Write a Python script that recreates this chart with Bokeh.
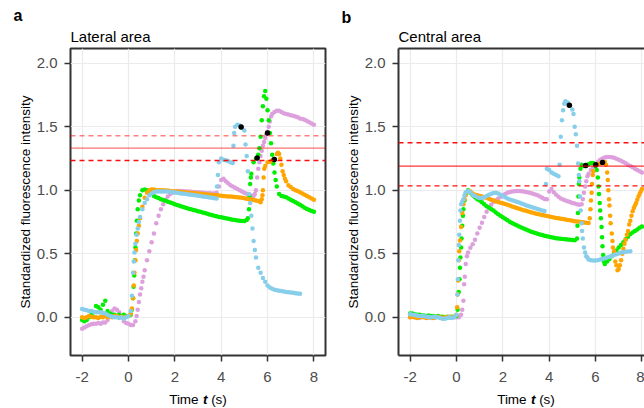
import numpy as np
from bokeh.plotting import figure
from bokeh.models import Span, FixedTicker, LinearAxis, Range1d, Title
from bokeh.core.properties import value
from bokeh.layouts import row, column
from bokeh.embed import file_html
from bokeh.resources import INLINE

# ---------------- data ----------------
# common sampling grid (s): -2.0 ... 8.0 every 0.1 s
T = np.round(np.arange(-2.0, 8.0001, 0.1), 1)

X_TICKS = [-2, 0, 2, 4, 6, 8]
X_TICK_LABELS = ["-2", "0", "2", "4", "6", "8"]
Y_TICKS = [0, 0.5, 1, 1.5, 2]
Y_TICK_LABELS = ["0.0", "0.5", "1.0", "1.5", "2.0"]
PANEL_TITLES = ["Lateral area", "Central area"]
PANEL_TAGS = ["a", "b"]
Y_LABEL = "Standardized fluorescence intensity"
X_LABEL_PARTS = ["Time", "t", "(s)"]

# ---- panel a (lateral area) ----
A_GREEN = [-0.02, -0.03, -0.02, 0.0, 0.02, 0.04, 0.09, 0.08, 0.06, 0.10,
           0.13, 0.05, 0.03, 0.02, 0.02, 0.01, 0.02, 0.01, 0.02, 0.01,
           0.01, 0.02, 0.15, 0.55, 0.85, 0.96, 1.0, 1.005, 1.0, 1.0,
           0.98, 0.955, 0.945, 0.938, 0.93, 0.924, 0.917, 0.91, 0.903, 0.897,
           0.89, 0.884, 0.878, 0.872, 0.866, 0.86, 0.855, 0.85, 0.845, 0.84,
           0.835, 0.83, 0.825, 0.82, 0.815, 0.81, 0.805, 0.8, 0.795, 0.79,
           0.787, 0.783, 0.78, 0.776, 0.772, 0.768, 0.765, 0.762, 0.76, 0.758,
           0.758, 0.765, 0.85, 1.13, 1.22, 1.25, 1.28, 1.42, 1.66, 1.78,
           1.63, 1.45, 1.28, 1.14, 1.03, 0.97, 0.955, 0.95, 0.945, 0.935,
           0.925, 0.915, 0.905, 0.895, 0.885, 0.875, 0.862, 0.852, 0.845, 0.837,
           0.83]
A_GREEN_XT = [0.15, 0.22, 0.25, 0.28, 0.33, 0.36, 0.45,
              5.15, 5.22, 5.25, 5.28, 5.65, 5.75, 5.85, 5.95, 6.05, 6.15, 6.25, 6.35]
A_GREEN_XY = [0.06, 0.24, 0.33, 0.45, 0.66, 0.76, 0.92,
              0.78, 0.95, 1.05, 1.1, 1.33, 1.55, 1.74, 1.72, 1.55, 1.37, 1.21, 1.08]

A_ORANGE = [0.0, -0.005, 0.0, 0.01, 0.005, 0.0, 0.0, -0.005, 0.005, 0.0,
            0.01, 0.0, 0.005, 0.0, 0.01, 0.01, 0.0, 0.005, 0.0, 0.005,
            0.01, 0.03, 0.15, 0.45, 0.66, 0.78, 0.87, 0.94, 0.98, 1.0,
            1.005, 1.005, 1.0, 1.0, 1.0, 1.0, 0.998, 0.997, 0.995, 0.993,
            0.99, 0.99, 0.988, 0.986, 0.985, 0.983, 0.981, 0.98, 0.978, 0.976,
            0.974, 0.972, 0.97, 0.968, 0.966, 0.965, 0.963, 0.961, 0.96, 0.958,
            0.956, 0.955, 0.953, 0.951, 0.95, 0.948, 0.946, 0.944, 0.942, 0.94,
            0.937, 0.934, 0.93, 0.927, 0.924, 0.92, 0.915, 0.905, 1.0, 1.19,
            1.22, 1.225, 1.235, 1.245, 1.285, 1.285, 1.2, 1.12, 1.07, 1.04,
            1.025, 1.01, 1.0, 0.995, 0.985, 0.975, 0.965, 0.955, 0.945, 0.935,
            0.925]
A_ORANGE_XT = [0.15, 0.23, 0.26, 0.33, 0.36, 0.45,
               5.75, 5.78, 5.83, 5.86, 6.45, 6.55, 6.65, 6.75]
A_ORANGE_XY = [0.07, 0.25, 0.35, 0.53, 0.6, 0.72,
               0.93, 0.96, 1.1, 1.17, 1.295, 1.25, 1.15, 1.09]

A_SKY = [0.065, 0.06, 0.055, 0.05, 0.05, 0.045, 0.04, 0.04, 0.04, 0.035,
         0.03, 0.02, 0.01, 0.005, 0.0, 0.0, -0.005, 0.0, -0.01, 0.0,
         0.01, 0.05, 0.35, 0.58, 0.7, 0.79, 0.85, 0.9, 0.93, 0.96,
         0.975, 0.985, 0.99, 0.99, 0.99, 0.99, 0.99, 0.99, 0.988, 0.985,
         0.983, 0.98, 0.977, 0.975, 0.972, 0.97, 0.967, 0.964, 0.962, 0.96,
         0.957, 0.954, 0.951, 0.948, 0.946, 0.943, 0.94, 0.937, 0.935, 1.22,
         1.25, 1.24, 1.235, 1.23, 1.22, 1.215, 1.5, 1.515, 1.51, 1.49,
         1.47, 1.27, 0.97, 0.8, 0.6, 0.47, 0.39, 0.35, 0.31, 0.28,
         0.25, 0.235, 0.225, 0.218, 0.213, 0.21, 0.207, 0.203, 0.2, 0.198,
         0.195, 0.193, 0.19, 0.188, 0.185, None, None, None, None, None,
         None]
A_SKY_XT = [0.15, 0.23, 0.26, 0.35, 0.45,
            3.82, 3.86, 4.53, 4.56, 5.05, 5.15, 5.25, 5.35, 5.45]
A_SKY_XY = [0.17, 0.44, 0.51, 0.65, 0.75,
            1.03, 1.12, 1.35, 1.45, 1.36, 1.15, 0.9, 0.7, 0.53]

A_PLUM = [-0.09, -0.08, -0.07, -0.06, -0.055, -0.05, -0.05, -0.045, -0.05, -0.04,
          -0.04, -0.02, 0.02, 0.05, 0.07, 0.06, 0.04, 0.0, -0.03, -0.045,
          -0.05, -0.06, -0.06, -0.03, 0.06, 0.18, 0.28, 0.37, 0.45, 0.52,
          0.59, 0.66, 0.74, 0.8, 0.85, 0.89, 0.925, 0.95, 0.97, 0.98,
          0.99, 0.995, 0.995, 0.995, 0.993, 0.99, 0.99, 0.988, 0.986, 0.985,
          0.984, 0.982, 0.98, 0.979, 0.977, 0.976, 0.975, 0.975, 0.98, 1.03,
          1.08, 1.09, 1.07, 1.055, 1.04, 1.03, 1.02, 1.01, 1.0, 0.99,
          0.98, 0.972, 0.965, 0.958, 0.955, 1.0, 1.17, 1.27, 1.35, 1.41,
          1.46, 1.54, 1.6, 1.615, 1.625, 1.625, 1.615, 1.605, 1.6, 1.595,
          1.59, 1.585, 1.58, 1.575, 1.565, 1.56, 1.555, 1.545, 1.535, 1.525,
          1.515]
A_PLUM_XT = [0.35, 0.45, 0.55, 0.65,
             5.45, 5.55, 5.65, 5.75, 5.85, 5.95, 6.05, 6.15]
A_PLUM_XY = [0.01, 0.12, 0.23, 0.32,
             0.97, 1.1, 1.22, 1.31, 1.38, 1.44, 1.5, 1.58]

A_MARK_T = [4.86, 5.55, 6.0, 6.29]
A_MARK_Y = [1.497, 1.253, 1.45, 1.242]
A_LEVEL = 1.331
A_BAND = [1.234, 1.429]

# ---- panel b (central area) ----
B_GREEN = [0.03, 0.03, 0.025, 0.02, 0.02, 0.015, 0.015, 0.01, 0.015, 0.01,
           0.01, 0.005, 0.01, 0.005, 0.005, 0.0, 0.005, 0.0, 0.005, 0.005,
           0.01, 0.2, 0.55, 0.85, 0.97, 1.0, 0.98, 0.96, 0.945, 0.93,
           0.92, 0.905, 0.89, 0.875, 0.865, 0.85, 0.84, 0.825, 0.812, 0.8,
           0.787, 0.775, 0.763, 0.752, 0.742, 0.733, 0.724, 0.715, 0.707, 0.7,
           0.692, 0.684, 0.676, 0.67, 0.664, 0.658, 0.652, 0.647, 0.642, 0.638,
           0.634, 0.63, 0.626, 0.623, 0.62, 0.618, 0.616, 0.614, 0.612, 0.61,
           0.608, 0.606, 0.62, 1.1, 1.2, 1.19, 1.19, 1.205, 1.215, 1.215,
           1.19, 1.1, 0.84, 0.56, 0.42, 0.44, 0.46, 0.48, 0.505, 0.526,
           0.55, 0.57, 0.59, 0.615, 0.635, 0.655, 0.668, 0.68, 0.692, 0.705,
           0.715]
B_GREEN_XT = [0.05, 0.13, 0.15, 0.17, 0.22, 0.25, 0.28, 0.35,
              5.22, 5.24, 5.26, 5.28, 5.35, 6.05, 6.13, 6.15, 6.18, 6.23, 6.26, 6.28, 6.33, 6.36]
B_GREEN_XY = [0.06, 0.3, 0.39, 0.47, 0.62, 0.72, 0.8, 0.92,
              0.72, 0.82, 0.95, 1.05, 1.17, 1.16, 1.03, 0.97, 0.9, 0.78, 0.71, 0.63, 0.49, 0.44]

B_ORANGE = [0.0, 0.005, 0.0, -0.005, 0.0, 0.005, 0.0, -0.005, 0.0, 0.0,
            -0.005, 0.0, 0.005, 0.0, -0.005, 0.0, 0.0, 0.005, 0.0, 0.005,
            0.02, 0.45, 0.71, 0.89, 0.96, 0.99, 0.99, 0.975, 0.965, 0.96,
            0.955, 0.95, 0.945, 0.94, 0.933, 0.926, 0.92, 0.914, 0.908, 0.902,
            0.897, 0.891, 0.886, 0.879, 0.872, 0.866, 0.86, 0.854, 0.848, 0.843,
            0.838, 0.832, 0.827, 0.822, 0.818, 0.814, 0.81, 0.806, 0.802, 0.798,
            0.794, 0.79, 0.786, 0.782, 0.779, 0.776, 0.773, 0.77, 0.766, 0.763,
            0.76, 0.757, 0.755, 0.752, 0.75, 0.747, 0.744, 0.742, 0.92, 1.15,
            1.197, 1.205, 1.21, 1.219, 1.223, 1.14, 0.88, 0.66, 0.52, 0.41,
            0.38, 0.45, 0.54, 0.61, 0.68, 0.76, 0.835, 0.88, 0.925, 0.97,
            1.01]
B_ORANGE_XT = [0.03, 0.05, 0.07, 0.12, 0.15, 0.25, 0.35,
               5.75, 5.78, 5.83, 5.85, 5.88, 6.45, 6.53, 6.55, 6.58, 6.63, 6.65, 6.73, 6.75,
               6.85, 6.95, 7.05, 7.15, 7.25, 7.35, 7.45, 7.55, 7.65, 7.75, 7.85, 7.95]
B_ORANGE_XY = [0.08, 0.18, 0.29, 0.52, 0.605, 0.82, 0.93,
               0.78, 0.85, 0.98, 1.05, 1.12, 1.2, 1.08, 1.0, 0.93, 0.8, 0.74, 0.6, 0.55,
               0.44, 0.37, 0.41, 0.5, 0.58, 0.65, 0.73, 0.8, 0.86, 0.9, 0.95, 0.99]

B_SKY = [0.025, 0.02, 0.02, 0.015, 0.01, 0.01, 0.01, 0.005, 0.005, 0.0,
         0.005, 0.0, 0.0, -0.005, -0.01, -0.01, -0.005, 0.0, -0.005, 0.0,
         0.02, 0.57, 0.89, 0.93, 0.985, 0.995, 0.985, 0.965, 0.955, 0.945,
         0.938, 0.938, 0.945, 0.955, 0.965, 0.972, 0.978, 0.98, 0.975, 0.965,
         0.955, 0.945, 0.935, 0.928, 0.922, 0.916, 0.91, 0.903, 0.896, 0.889,
         0.882, 0.876, 0.87, 0.864, 0.858, 0.852, 0.846, 0.841, 0.837, 1.17,
         1.16, 1.14, 1.13, 1.12, 1.11, 1.42, 1.63, 1.70, 1.69, 1.665,
         1.635, 1.5, 1.35, 1.07, 0.74, 0.55, 0.48, 0.455, 0.45, 0.447,
         0.447, 0.45, 0.455, 0.46, 0.465, 0.47, 0.477, 0.483, 0.49, 0.497,
         0.503, 0.51, 0.513, 0.516, 0.519, 0.52, None, None, None, None,
         None]
B_SKY_XT = [0.04, 0.06, 0.08, 0.12, 0.15, 0.17, 0.25, 0.35,
            3.86, 4.45, 4.55, 4.65, 5.05, 5.15, 5.25, 5.28, 5.33, 5.36, 5.42, 5.45, 5.55, 5.65]
B_SKY_XY = [0.18, 0.3, 0.45, 0.65, 0.76, 0.84, 0.91, 0.96,
            1.05, 1.2, 1.55, 1.68, 1.6, 1.44, 1.21, 1.12, 0.95, 0.84, 0.68, 0.62, 0.51, 0.47]

B_PLUM = [0.0, 0.005, 0.0, 0.0, -0.005, 0.0, 0.005, 0.0, 0.0, -0.005,
          0.0, 0.0, 0.005, 0.0, -0.005, 0.0, 0.0, 0.005, 0.0, 0.0,
          0.0, 0.0, 0.02, 0.13, 0.42, 0.51, 0.547, 0.575, 0.61, 0.66,
          0.705, 0.745, 0.79, 0.83, 0.86, 0.885, 0.908, 0.922, 0.935, 0.947,
          0.958, 0.97, 0.98, 0.987, 0.99, 0.993, 0.995, 0.995, 0.993, 0.99,
          0.987, 0.983, 0.978, 0.972, 0.966, 0.96, 0.95, 0.94, 0.932, 0.93,
          0.99, 1.01, 0.985, 0.965, 0.948, 0.935, 0.927, 0.92, 0.914, 0.908,
          0.9, 0.895, 0.89, 0.885, 0.89, 0.98, 1.07, 1.13, 1.16, 1.18,
          1.2, 1.225, 1.24, 1.25, 1.258, 1.262, 1.262, 1.26, 1.255, 1.247,
          1.24, 1.232, 1.222, 1.212, 1.2, 1.19, 1.18, 1.17, 1.16, 1.15,
          1.14]
B_PLUM_XT = [0.25, 0.33, 0.36, 0.45, 5.45, 5.55, 5.65]
B_PLUM_XY = [0.06, 0.26, 0.32, 0.48, 0.93, 1.03, 1.11]

B_MARK_T = [4.87, 5.57, 6.01, 6.3]
B_MARK_Y = [1.668, 1.195, 1.2, 1.219]
B_LEVEL = 1.189
B_BAND = [1.034, 1.373]

COLORS = {"plum": "#DDA0DD", "green": "#00EE00", "orange": "#FFA500", "sky": "#87CEEB"}

FONT = "Liberation Sans"
X_START, X_FULL_END = -2.5, 8.5
FRAME_W_FULL = 255
PX_PER_UNIT = FRAME_W_FULL / (X_FULL_END - X_START)


def points(vals, xt, xy):
    t = [float(a) for a, v in zip(T, vals) if v is not None] + list(xt)
    y = [v for v in vals if v is not None] + list(xy)
    return t, y


def overrides(ticks, labels):
    return {(int(v) if float(v).is_integer() else float(v)): s for v, s in zip(ticks, labels)}


def make_panel(idx, series, marks, level, band, level_style, band_styles,
               frame_w, xr, left_b, right_b, boxed):
    p = figure(frame_width=frame_w, frame_height=307,
               x_range=xr, y_range=Range1d(-0.30, 2.115),
               output_backend="svg", toolbar_location=None,
               min_border_left=left_b, min_border_right=right_b,
               min_border_top=48, min_border_bottom=33)
    p.title = None
    p.background_fill_color = "white"
    p.border_fill_color = "white"

    p.xgrid.grid_line_color = "#EBEBEB"
    p.ygrid.grid_line_color = "#EBEBEB"
    p.xgrid.grid_line_width = 1.2
    p.ygrid.grid_line_width = 1.2

    p.xaxis.ticker = FixedTicker(ticks=X_TICKS)
    p.yaxis.ticker = FixedTicker(ticks=Y_TICKS)
    p.xaxis.major_label_overrides = overrides(X_TICKS, X_TICK_LABELS)
    p.yaxis.major_label_overrides = overrides(Y_TICKS, Y_TICK_LABELS)
    for ax in (p.xaxis[0], p.yaxis[0]):
        ax.major_tick_line_color = "#333333"
        ax.major_tick_line_width = 1.5
        ax.major_tick_out = 6
        ax.major_tick_in = 0
        ax.minor_tick_line_color = None
        ax.major_label_text_font = FONT
        ax.major_label_text_font_size = "15px"
        ax.major_label_text_color = "#4D4D4D"
        if boxed:
            ax.axis_line_color = None
        else:
            ax.axis_line_color = "#333333"
            ax.axis_line_width = 2
    p.xaxis.major_label_standoff = 10
    p.yaxis.major_label_standoff = 7
    p.yaxis.axis_label = Y_LABEL
    p.yaxis.axis_label_text_font = FONT
    p.yaxis.axis_label_text_font_size = "13.5px"
    p.yaxis.axis_label_text_font_style = "normal"
    p.yaxis.axis_label_text_color = "black"
    p.yaxis.axis_label_standoff = 1

    if boxed:
        p.outline_line_color = "#333333"
        p.outline_line_width = 2
    else:
        p.outline_line_color = None
        top = LinearAxis(ticker=FixedTicker(ticks=[]), axis_line_color="#333333",
                         axis_line_width=2, major_tick_line_color=None,
                         minor_tick_line_color=None, major_label_text_font_size="0px",
                         major_tick_out=0, major_tick_in=0, major_label_standoff=0)
        p.add_layout(top, "above")

    # titles: the panel title nearest the frame, then the panel tag
    p.add_layout(Title(text=PANEL_TITLES[idx], align="left", text_font=FONT,
                       text_font_size="15px", text_font_style="normal",
                       text_color="black", standoff=8), "above")
    p.add_layout(Title(text=PANEL_TAGS[idx], align="left", text_font=FONT,
                       text_font_size="16px", text_font_style="bold",
                       text_color="black", offset=-57, standoff=[-4, -9][idx]), "above")

    # reference levels
    p.add_layout(Span(location=level, dimension="width", line_color="#FF0000",
                      line_alpha=level_style, line_width=1.2))
    for v, a in zip(band, band_styles):
        p.add_layout(Span(location=v, dimension="width", line_color="#FF0000", line_alpha=a,
                          line_width=1.4, line_dash="5 4"))

    for name, (vals, xt, xy) in series:
        t, y = points(vals, xt, xy)
        p.scatter(t, y, size=4.5, fill_color=COLORS[name], line_color=None)

    p.scatter(marks[0], marks[1], size=5.5, fill_color="black", line_color=None)
    return p


def make_xlabel(frame_w, xr, left_b, right_b):
    s = figure(frame_width=frame_w, frame_height=20, x_range=xr, y_range=Range1d(0, 1),
               output_backend="svg", toolbar_location=None,
               x_axis_location=None, y_axis_location=None,
               min_border_left=left_b, min_border_right=right_b,
               min_border_top=0, min_border_bottom=0)
    s.title = None
    s.outline_line_color = None
    s.xgrid.visible = False
    s.ygrid.visible = False
    size = 13.5
    # widths (em) of "Time", space, bold-italic "t", space, "(s)" in an Arial-metric font
    w_time, w_sp, w_t, w_s = 2.222 * size, 0.278 * size, 0.333 * size, 1.166 * size
    total = w_time + w_sp + w_t + w_sp + w_s
    centre = (X_START + X_FULL_END) / 2.0
    x0 = centre - total / 2.0 / PX_PER_UNIT
    xs = [x0, x0 + (w_time + w_sp) / PX_PER_UNIT, x0 + (w_time + 2 * w_sp + w_t) / PX_PER_UNIT]
    styles = ["normal", "bold italic", "normal"]
    for xx, txt, st in zip(xs, X_LABEL_PARTS, styles):
        s.text(x=[xx], y=[0.45], text=[txt], text_font=value(FONT), text_font_size="13.5px",
               text_font_style=st, text_color="black", text_baseline="alphabetic",
               text_align="left")
    return s


series_a = [("plum", (A_PLUM, A_PLUM_XT, A_PLUM_XY)),
            ("green", (A_GREEN, A_GREEN_XT, A_GREEN_XY)),
            ("orange", (A_ORANGE, A_ORANGE_XT, A_ORANGE_XY)),
            ("sky", (A_SKY, A_SKY_XT, A_SKY_XY))]
series_b = [("plum", (B_PLUM, B_PLUM_XT, B_PLUM_XY)),
            ("green", (B_GREEN, B_GREEN_XT, B_GREEN_XY)),
            ("orange", (B_ORANGE, B_ORANGE_XT, B_ORANGE_XY)),
            ("sky", (B_SKY, B_SKY_XT, B_SKY_XY))]

xr_a = Range1d(X_START, X_FULL_END)
xr_b = Range1d(X_START, X_START + 246 / PX_PER_UNIT)

pa = make_panel(0, series_a, (A_MARK_T, A_MARK_Y), A_LEVEL, A_BAND,
                0.55, [0.95, 0.5], 255, xr_a, 70, 10, True)
pb = make_panel(1, series_b, (B_MARK_T, B_MARK_Y), B_LEVEL, B_BAND,
                0.8, [0.95, 0.95], 246, xr_b, 63, 0, False)
la = make_xlabel(255, xr_a, 70, 10)
lb = make_xlabel(246, xr_b, 63, 0)

layout = column(row(pa, pb), row(la, lb))
open("out.html", "w").write(file_html(layout, INLINE))
